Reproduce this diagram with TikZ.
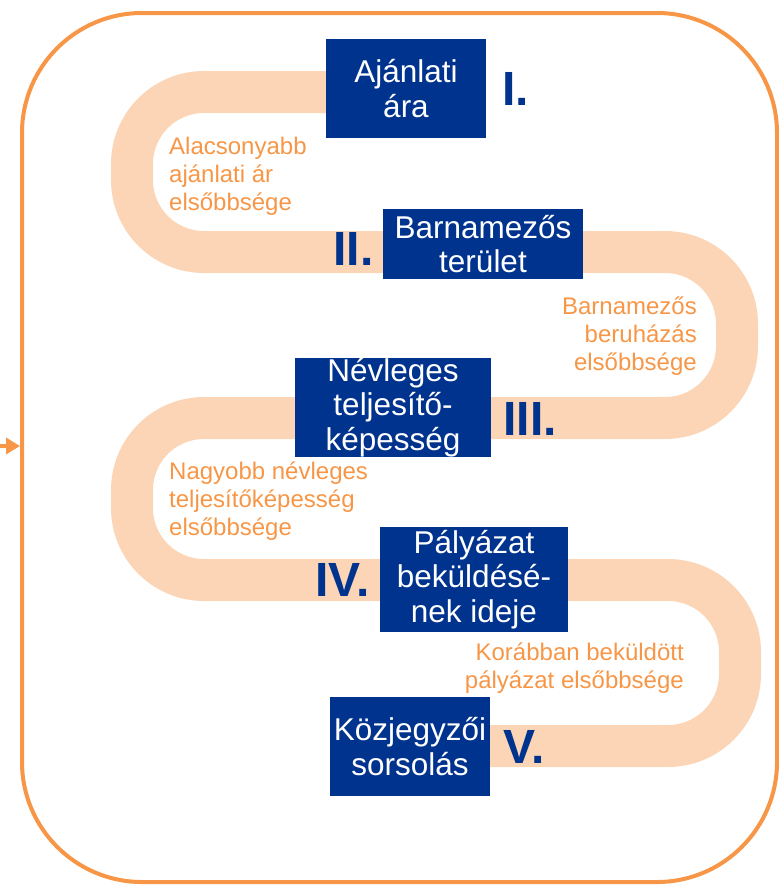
\documentclass[tikz,border=0pt]{standalone}
\usepackage{fontspec}
\setmainfont{Liberation Sans}
\usetikzlibrary{arrows.meta,positioning}
\definecolor{stageblue}{RGB}{0,51,141}
\definecolor{accent}{RGB}{247,150,70}
\definecolor{band}{RGB}{251,213,181}

\begin{document}
\begin{tikzpicture}[
      x=1pt,y=-1pt,
      stage/.style = {rectangle,fill=stageblue,text=white,inner sep=0,align=center,font=\fontsize{31.5}{34.5}\selectfont},
      numeral/.style = {inner sep=0,text=stageblue,font=\bfseries\fontsize{48}{50}\selectfont},
      note/.style = {inner sep=0,text=accent,font=\fontsize{24}{28}\selectfont},
      arrow/.style = {-{Triangle[length=14pt,width=16pt]},line width=4pt,accent}
      ]
      \useasboundingbox (0,0) rectangle (779,887);
      % frame and winding band
      \node (frame)[draw=accent,line width=4pt,rounded corners=120pt,minimum width=755pt,minimum height=869pt,inner sep=0] at (399.5,447.5) {};
      \draw[band,line width=42pt,rounded corners=72pt] (326,92) -- (132,92) -- (132,252) -- (737,252) -- (737,418) -- (132,418) -- (132,580) -- (740,580) -- (740,746) -- (490,746);

      \node (b1)[stage,minimum width=160pt,minimum height=99pt] at (406,88.5) {Ajánlati\\ára};
      \node (b2)[stage,minimum width=200pt,minimum height=70pt] at (483,244) {Barnamezős\\terület};
      \node (b3)[stage,minimum width=196pt,minimum height=99pt] at (393,407.5) {Névleges\\teljesítő-\\képesség};
      \node (b4)[stage,minimum width=188pt,minimum height=105pt] at (474,579.5) {Pályázat\\beküldésé-\\nek ideje};
      \node (b5)[stage,minimum width=160pt,minimum height=99pt] at (410,746.5) {Közjegyzői\\sorsolás};

      \node (n1)[numeral,right=16pt of b1] {I.};
      \node (n2)[numeral,left=9pt of b2,yshift=-5pt] {II.};
      \node (n3)[numeral,right=12pt of b3,yshift=-11pt] {III.};
      \node (n4)[numeral,left=10pt of b4] {IV.};
      \node (n5)[numeral,right=13pt of b5] {V.};

      % base anchor sits on the last line
      \node (t1)[note,anchor=base west,align=left] at (169,210) {Alacsonyabb\\ajánlati ár\\elsőbbsége};
      \node (t2)[note,anchor=base east,align=right] at (697,370) {Barnamezős\\beruházás\\elsőbbsége};
      \node (t3)[note,anchor=base west,align=left] at (169,535) {Nagyobb névleges\\teljesítőképesség\\elsőbbsége};
      \node (t4)[note,anchor=base east,align=right] at (684,688) {Korábban beküldött\\pályázat elsőbbsége};

      \coordinate (entry) at (0,446);
      \draw[arrow] (entry) -- (entry -| frame.west);
    \end{tikzpicture}
\end{document}
